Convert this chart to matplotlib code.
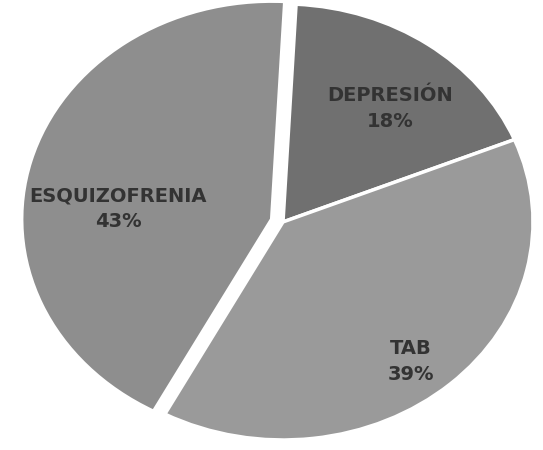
import numpy as np
import matplotlib
matplotlib.use('Agg')
import matplotlib.pyplot as plt

# Datos del gráfico
categorias = ['DEPRESIÓN', 'TAB', 'ESQUIZOFRENIA']
porcentajes = [18, 39, 43]
colores = ['#707070', '#9a9a9a', '#8e8e8e']
separacion = [0, 0, 0.047]

# Posición de las etiquetas (coordenadas del eje)
pos_etiquetas = [(0.43, 0.52), (0.51, -0.64), (-0.66, 0.06)]

fig = plt.figure(figsize=(5.43, 4.5), dpi=100)
ax = fig.add_axes([0, 0, 1, 1])

ax.pie(porcentajes, colors=colores, explode=separacion, startangle=87,
       counterclock=False, radius=1.0,
       wedgeprops=dict(edgecolor='white', linewidth=2.5))

for nombre, valor, (x, y) in zip(categorias, porcentajes, pos_etiquetas):
    ax.text(x, y, f'{nombre}\n{valor}%', ha='center', va='center',
            fontsize=14, fontweight='bold', color='#333333',
            linespacing=1.45, family='DejaVu Sans')

ax.set_aspect('auto')
ax.set_xlim(-1.132, 1.04)
ax.set_ylim(-1.046, 1.018)
ax.axis('off')

fig.savefig('out.png', dpi=100, facecolor='white')
plt.close(fig)
